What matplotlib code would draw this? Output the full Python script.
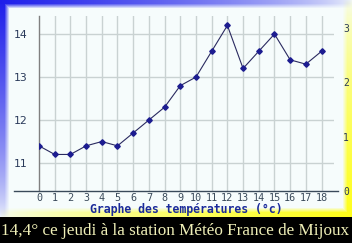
import numpy as np
import matplotlib
matplotlib.use("Agg")
import matplotlib.pyplot as plt
from matplotlib.lines import Line2D

# data
hours = list(range(19))
temps = [11.4, 11.2, 11.2, 11.4, 11.5, 11.4, 11.7, 12.0, 12.3, 12.8,
         13.0, 13.6, 14.2, 13.2, 13.6, 14.0, 13.4, 13.3, 13.6]
left_ticks = [11, 12, 13, 14]
right_ticks = [0, 1, 2, 3]
title = "Graphe des températures (°c)"
banner = "14,4° ce jeudi à la station Météo France de Mijoux"

W, H = 352, 243
fig = plt.figure(figsize=(W / 100, H / 100), dpi=100)

# background: light panel with blue (top-left) and yellow (bottom-right) gradient borders
yy, xx = np.mgrid[0:H, 0:W].astype(float)
base = np.array([0.965, 0.99, 0.99])
blue = np.array([0.12, 0.12, 0.92])
yellow = np.array([1.0, 1.0, 0.1])
band_bottom = 217
w_top = np.clip((9 - yy) / 5, 0, 1) * (1 - xx / W) ** 0.6
w_left = np.clip((9 - xx) / 5, 0, 1) * (1 - yy / band_bottom).clip(0) ** 0.6
wb = np.maximum(w_top, w_left)
w_right = np.clip((10 - (W - xx)) / 5, 0, 1) * (yy / band_bottom) ** 0.6
w_bot = np.clip((10 - (band_bottom - yy)) / 5, 0, 1) * (xx / W) ** 0.6
wy = np.maximum(w_right, w_bot)
tot = np.clip(wb + wy, 0, 1)
s = np.where(wb + wy > 0, tot / np.maximum(wb + wy, 1e-9), 0)
wb, wy = wb * s, wy * s
img = base * (1 - wb - wy)[..., None] + blue * wb[..., None] + yellow * wy[..., None]
img[band_bottom:] = 0.0

bg = fig.add_axes([0, 0, 1, 1], zorder=-1)
bg.imshow(img, extent=(0, W, H, 0), aspect="auto", interpolation="nearest")
bg.set_xlim(0, W)
bg.set_ylim(H, 0)
bg.axis("off")

# main plot area in pixel positions
x0, x1, ytop, ybot = 39, 333.5, 16, 191
ax = fig.add_axes([x0 / W, (H - ybot) / H, (x1 - x0) / W, (ybot - ytop) / H])
ax.set_facecolor("none")
ax.set_xlim(0, 18.76)
ax.set_ylim(10.35, 14.42)

grid_c = "#c9d2d2"
for h in hours[1:]:
    ax.axvline(h, color=grid_c, lw=1, zorder=1)
for t in left_ticks:
    ax.axhline(t, color=grid_c, lw=1, zorder=1)

ax.plot(hours, temps, color="#2a2a60", lw=0.8, zorder=3)
ax.plot(hours, temps, ls="none", marker="D", ms=2.8, color="#1c1c90", zorder=4)

for sp in ["top", "right", "bottom"]:
    ax.spines[sp].set_visible(False)
ax.spines["left"].set_color("#808080")
ax.spines["left"].set_linewidth(1)

ax.set_yticks(left_ticks)
ax.set_yticklabels([str(t) for t in left_ticks], fontsize=7.8, color="#2a3a5a")
ax.tick_params(axis="y", length=0, pad=8)
ax.set_xticks(hours)
ax.set_xticklabels([str(h) for h in hours], fontsize=7.3, color="#3a4a5a",
                   family="DejaVu Sans Mono")
ax.tick_params(axis="x", length=0, pad=1.5)

ax2 = ax.twinx()
ax2.set_ylim(0, 3.22)
ax2.set_yticks(right_ticks)
ax2.set_yticklabels([str(t) for t in right_ticks], fontsize=7, color="#2a3a5a",
                    family="DejaVu Sans Mono")
ax2.tick_params(axis="y", length=0, pad=7)
for sp in ax2.spines.values():
    sp.set_visible(False)

# bottom axis line extends beyond the plot on both sides
fig.add_artist(Line2D([14 / W, 338 / W], [(H - ybot) / H] * 2, color="#3a4a5a",
                      lw=1, transform=fig.transFigure))

fig.text(186 / W, 1 - 209 / H, title, ha="center", va="center", fontsize=8.3,
         fontweight="bold", family="DejaVu Sans Mono", color="#1a2a9a")
fig.text(175 / W, 1 - 230.5 / H, banner, ha="center", va="center", fontsize=12.3,
         family="Liberation Serif", color="#f0f0b8")

fig.savefig("out.png", dpi=100)
